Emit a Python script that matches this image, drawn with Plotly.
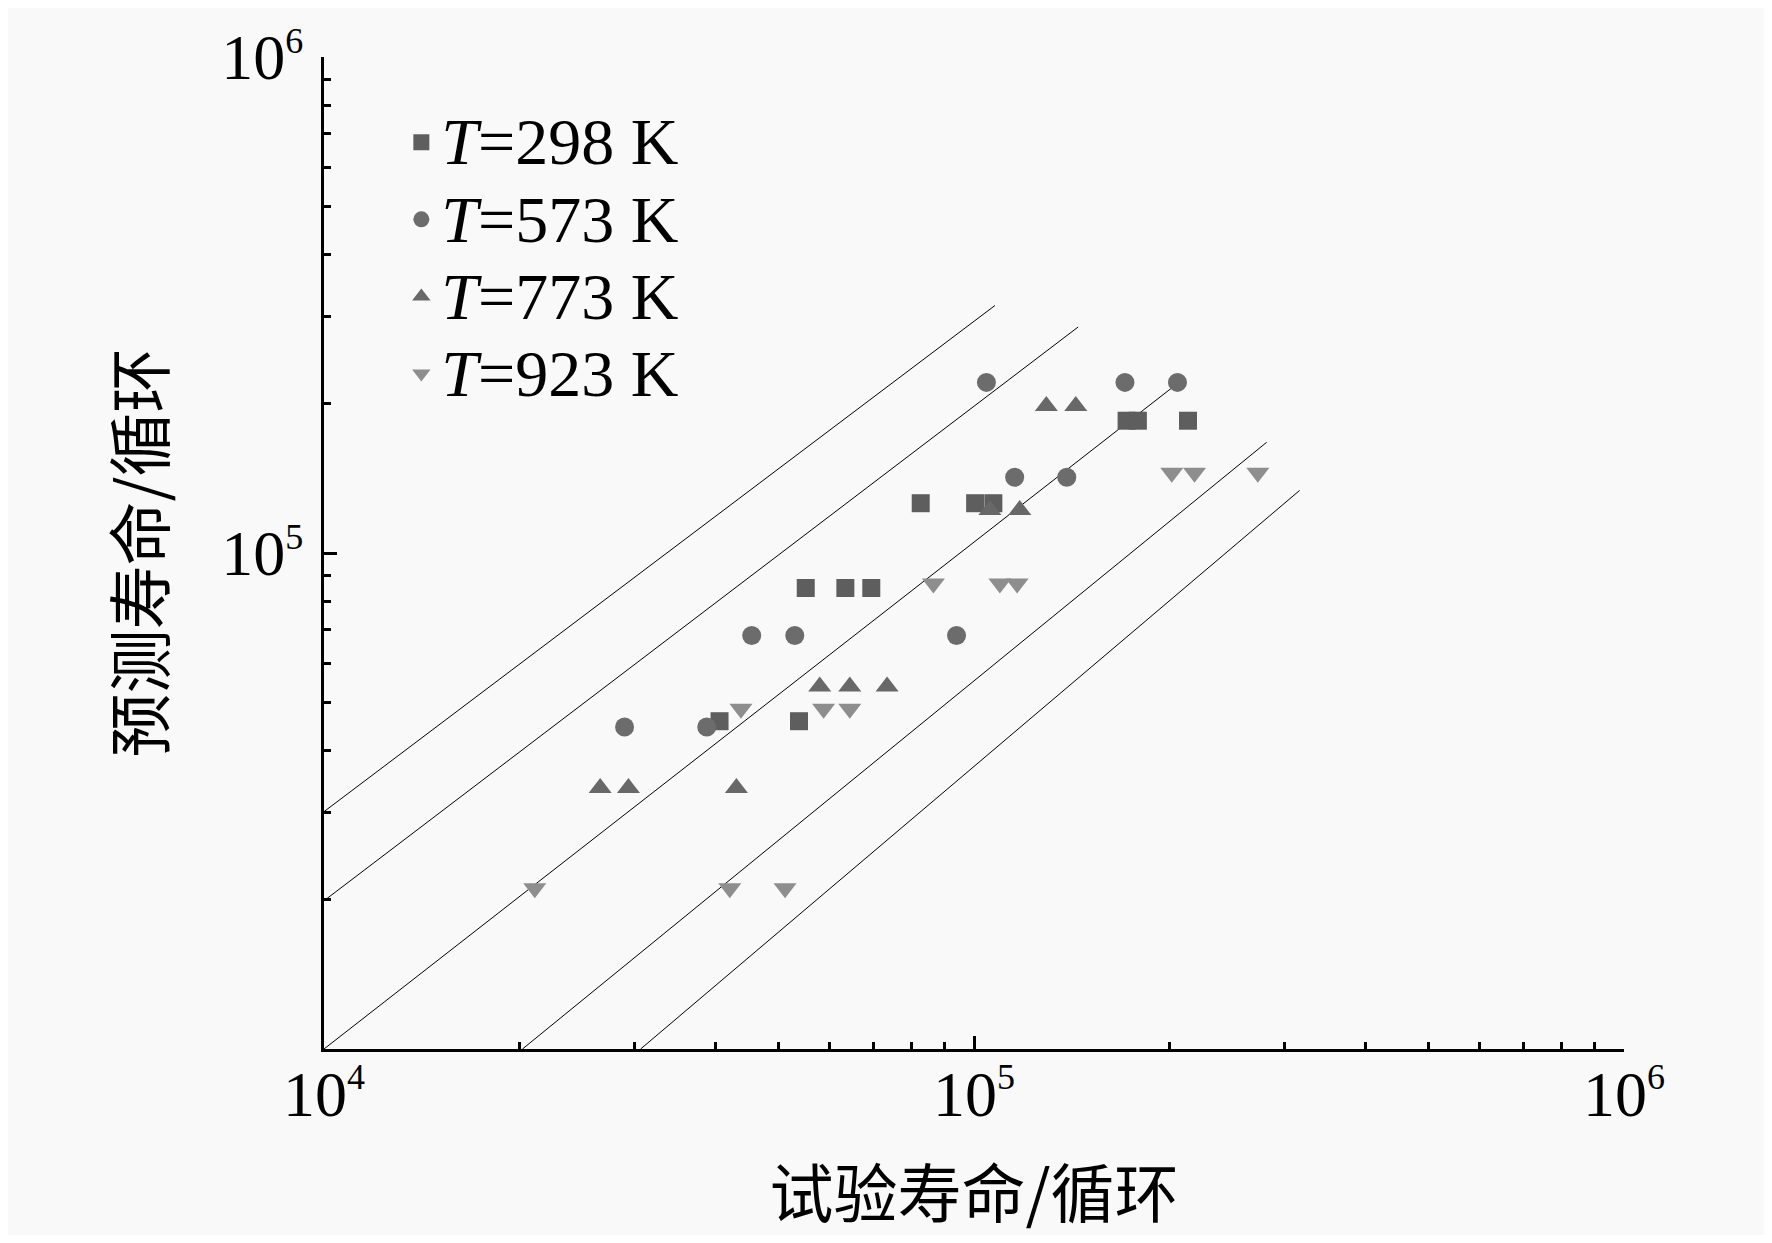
import plotly.graph_objects as go

# (cycles)
x_298 = [40.6e3, 53.8e3, 55.1e3, 63.4e3, 69.5e3, 82.8e3, 100.4e3, 107.1e3, 171.7e3, 178.7e3, 213.4e3]
y_298 = [45.8e3, 45.8e3, 85.0e3, 85.0e3, 85.0e3, 126e3, 126e3, 126e3, 184.8e3, 184.8e3, 184.8e3]

x_573 = [29.0e3, 38.8e3, 45.5e3, 53.0e3, 94.0e3, 104.5e3, 115.5e3, 138.9e3, 170.7e3, 205.6e3]
y_573 = [44.6e3, 44.6e3, 68.2e3, 68.2e3, 68.2e3, 220.8e3, 142.1e3, 142.1e3, 220.8e3, 220.8e3]

x_773 = [26.6e3, 29.4e3, 43.1e3, 57.9e3, 64.4e3, 73.5e3, 105.8e3, 117.6e3, 129.2e3, 143.4e3]
y_773 = [33.6e3, 33.6e3, 33.6e3, 53.8e3, 53.8e3, 53.8e3, 122.1e3, 122.1e3, 197.8e3, 197.8e3]

x_923 = [21.1e3, 42.1e3, 51.2e3, 43.8e3, 58.7e3, 64.4e3, 86.6e3, 109.6e3, 116.5e3, 201.5e3, 218.4e3, 273.3e3]
y_923 = [21.1e3, 21.1e3, 21.1e3, 48.5e3, 48.5e3, 48.5e3, 86.8e3, 86.8e3, 86.8e3, 145.1e3, 145.1e3, 145.1e3]

# scatter band lines (x3, x2, x1, x1/2, x1/3), end points as drawn
band_x = [[1e4, 107.7e3], [1e4, 144.6e3], [1e4, 205.6e3], [20.2e3, 282e3], [30.7e3, 316.9e3]]
band_y = [[30.1e3, 315.5e3], [19.9e3, 285.5e3], [1e4, 219.7e3], [1e4, 167.2e3], [1e4, 133.7e3]]

temps = ['298', '573', '773', '923']
symbols = ['square', 'circle', 'triangle-up', 'triangle-down']
sizes = [18, 19, 20, 20]
colors = ['#5e5e5e', '#6c6c6c', '#686868', '#8e8e8e']

serif = 'Liberation Serif, Times New Roman, serif'
cjk = 'Noto Sans CJK SC'
bg = '#f9f9f9'

def pow10(e):
    return '10<sup><span style="font-size:36px">%d</span></sup>' % e

fig = go.Figure()

for bx, by in zip(band_x, band_y):
    fig.add_trace(go.Scatter(x=bx, y=by, mode='lines', line=dict(color='black', width=1),
                             showlegend=False, hoverinfo='skip'))

series = [(x_298, y_298), (x_573, y_573), (x_773, y_773), (x_923, y_923)]
for (sx, sy), t, sym, sz, col in zip(series, temps, symbols, sizes, colors):
    nm = '<span style="font-size:66px"><i>T</i>=%s K</span>' % t
    fig.add_trace(go.Scatter(x=sx, y=sy, mode='markers', name=nm,
                             marker=dict(symbol=sym, size=sz, color=col, line_width=0)))

fig.update_layout(
    width=1756, height=1227,
    margin=dict(l=316, r=140, t=49, b=186),
    paper_bgcolor=bg, plot_bgcolor=bg,
    font=dict(family=serif, size=64, color='black'),
    showlegend=True,
    legend=dict(x=0.0595, y=0.958, xanchor='left', yanchor='top',
                bgcolor='rgba(0,0,0,0)', font=dict(family=serif, size=57),
                tracegroupgap=0),
    xaxis=dict(type='log', range=[4, 6], automargin=False,
               tickvals=[1e4, 1e5, 1e6],
               ticktext=[pow10(4), pow10(5), pow10(6)],
               ticks='inside', ticklen=13, tickwidth=3, tickcolor='black',
               showline=True, linewidth=3, linecolor='black', mirror=False,
               showgrid=False, zeroline=False, ticklabelstandoff=-13,
               minor=dict(ticks='inside', ticklen=7, tickwidth=3, tickcolor='black',
                          dtick='D1', showgrid=False),
               title=dict(text='试验寿命/循环', font=dict(family=cjk, size=64), standoff=65)),
    yaxis=dict(type='log', range=[4, 6], automargin=False,
               tickvals=[1e5, 1e6],
               ticktext=[pow10(5), pow10(6)],
               ticks='inside', ticklen=13, tickwidth=3, tickcolor='black',
               showline=True, linewidth=3, linecolor='black', mirror=False,
               showgrid=False, zeroline=False, ticklabelstandoff=5,
               minor=dict(ticks='inside', ticklen=7, tickwidth=3, tickcolor='black',
                          dtick='D1', showgrid=False),
               title=dict(text='预测寿命/循环', font=dict(family=cjk, size=64), standoff=36)),
)

fig.write_html("out.html")
